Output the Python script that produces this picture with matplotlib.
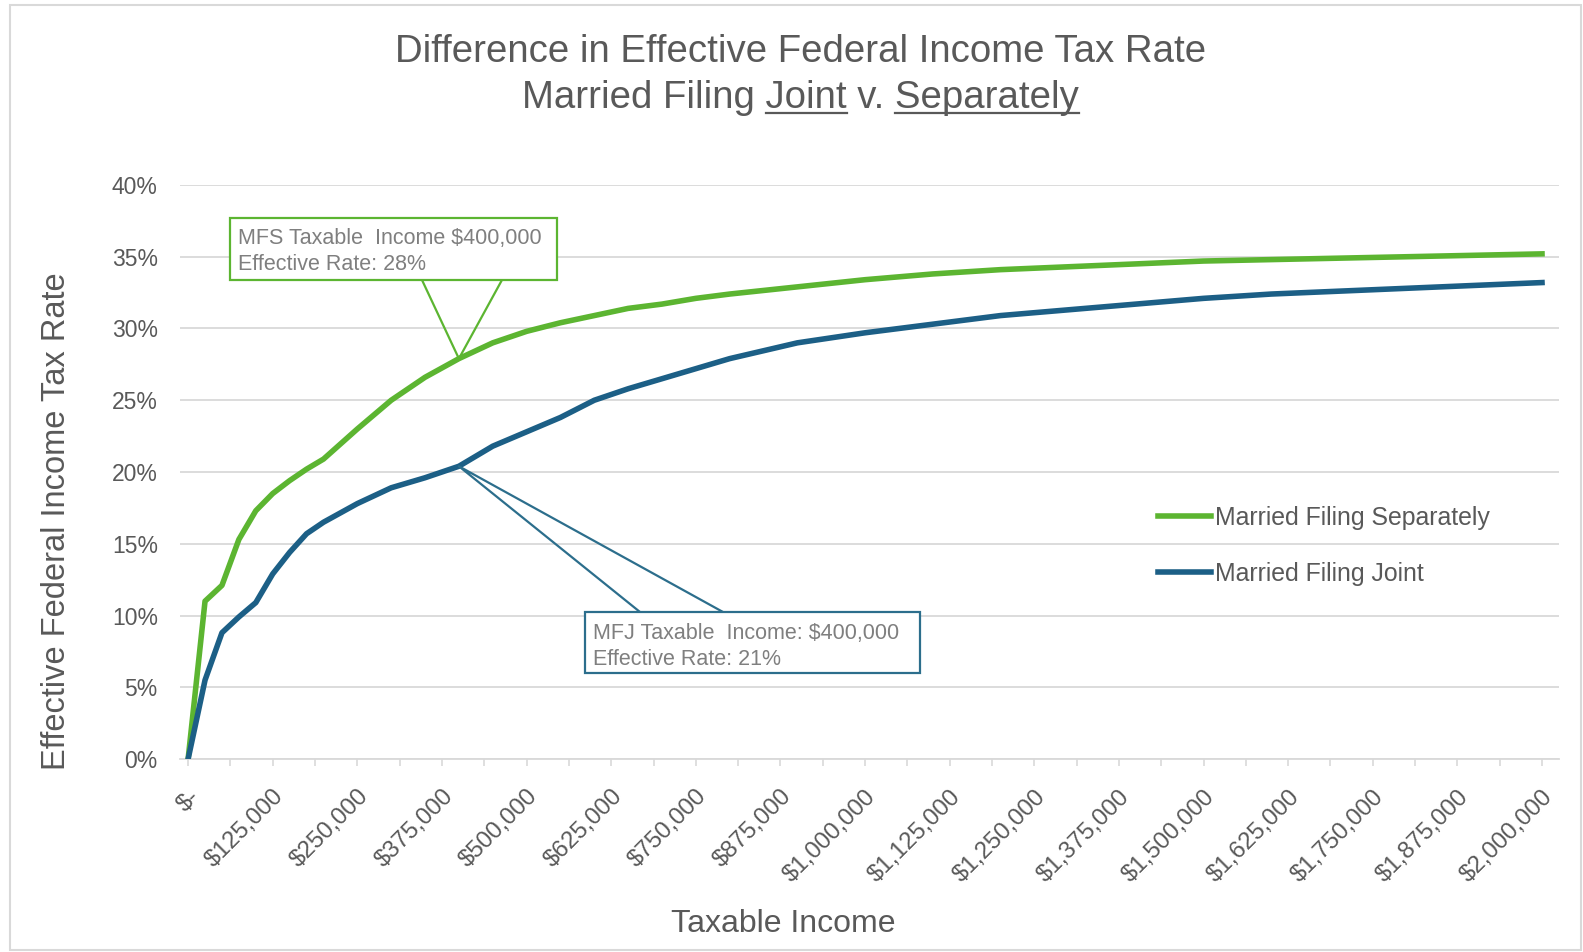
import matplotlib
matplotlib.use("Agg")
import matplotlib.pyplot as plt
from matplotlib.patches import Rectangle
from matplotlib.ticker import FuncFormatter, MultipleLocator

plt.rcParams['font.family'] = ['Liberation Sans', 'DejaVu Sans']

# ---- data (taxable income in $, rates in %) ----
income = [0, 25000, 50000, 75000, 100000, 125000, 150000, 175000, 200000,
          250000, 300000, 350000, 400000, 450000, 500000, 550000, 600000,
          650000, 700000, 750000, 800000, 900000, 1000000, 1100000, 1200000,
          1300000, 1400000, 1500000, 1600000, 1700000, 1800000, 1900000, 2000000]
mfs_rate = [0, 11.0, 12.1, 15.3, 17.3, 18.5, 19.4, 20.2, 20.9,
            23.0, 25.0, 26.6, 27.9, 29.0, 29.8, 30.4, 30.9,
            31.4, 31.7, 32.1, 32.4, 32.9, 33.4, 33.8, 34.1,
            34.3, 34.5, 34.7, 34.8, 34.9, 35.0, 35.1, 35.2]
mfj_rate = [0, 5.5, 8.8, 9.9, 10.9, 12.9, 14.4, 15.7, 16.5,
            17.8, 18.9, 19.6, 20.4, 21.8, 22.8, 23.8, 25.0,
            25.8, 26.5, 27.2, 27.9, 29.0, 29.7, 30.3, 30.9,
            31.3, 31.7, 32.1, 32.4, 32.6, 32.8, 33.0, 33.2]
series_names = ['Married Filing Separately', 'Married Filing Joint']
callout_income = 400000
mfs_note = 'MFS Taxable  Income $400,000\nEffective Rate: 28%'
mfj_note = 'MFJ Taxable  Income: $400,000\nEffective Rate: 21%'

GREEN = '#5cb531'
BLUE = '#1c5f86'
GREY_TXT = '#595959'
GRID = '#d9d9d9'

fig = plt.figure(figsize=(15.83, 9.52), dpi=100)
ax = fig.add_axes([0.1137, 0.2027, 0.8711, 0.603])

# outer frame of the chart
fig.patches.append(Rectangle((0.0065, 0.002), 0.992, 0.993, transform=fig.transFigure,
                             fill=False, edgecolor='#d9d9d9', linewidth=1.5))

ax.plot(income, mfs_rate, color=GREEN, linewidth=4, label=series_names[0],
        solid_joinstyle='round', zorder=3)
ax.plot(income, mfj_rate, color=BLUE, linewidth=4, label=series_names[1],
        solid_joinstyle='round', zorder=3)

ax.set_xlim(-12000, 2025000)
ax.set_ylim(0, 40)
ax.yaxis.set_major_locator(MultipleLocator(5))
ax.yaxis.set_major_formatter(FuncFormatter(lambda v, p: '%d%%' % round(v)))
ax.xaxis.set_major_locator(MultipleLocator(125000))
ax.xaxis.set_minor_locator(MultipleLocator(62500))
ax.xaxis.set_major_formatter(FuncFormatter(
    lambda v, p: '$-' if v == 0 else '${:,.0f}'.format(v)))

ax.grid(axis='y', color=GRID, linewidth=1.3, zorder=0)
ax.set_axisbelow(True)
for s in ['top', 'right', 'left']:
    ax.spines[s].set_visible(False)
ax.spines['bottom'].set_color(GRID)
ax.spines['bottom'].set_linewidth(1.3)

ax.tick_params(axis='y', length=0, pad=16, labelsize=16.5, labelcolor=GREY_TXT)
ax.tick_params(axis='x', which='both', length=5, color=GRID, width=1.2)
ax.tick_params(axis='x', which='major', pad=14, labelsize=17.3, labelcolor=GREY_TXT)
for lbl in ax.get_xticklabels():
    lbl.set_rotation(45)
    lbl.set_ha('right')
    lbl.set_va('top')
    lbl.set_rotation_mode('anchor')

fig.text(0.0355, 0.4527, 'Effective Federal Income Tax Rate', rotation=90,
         ha='center', va='center', fontsize=23.5, color=GREY_TXT)
fig.text(0.4947, 0.0294, 'Taxable Income', ha='center', va='center',
         fontsize=23, color=GREY_TXT)

# title, second line with underlined words
t1 = fig.text(0.5057, 1 - 52 / 952, 'Difference in Effective Federal Income Tax Rate',
              ha='center', va='center', fontsize=27.6, color=GREY_TXT)
line2 = 'Married Filing Joint v. Separately'
t2 = fig.text(0.5057, 1 - 98 / 952, line2, ha='center', va='center',
              fontsize=27.6, color=GREY_TXT)

leg = ax.legend(loc='upper left', bbox_to_anchor=(0.7315, 0.469),
                bbox_transform=fig.transFigure, frameon=False, fontsize=17.9,
                handlelength=2.15, handletextpad=0.15, labelspacing=1.3,
                borderpad=0, borderaxespad=0)
for txt in leg.get_texts():
    txt.set_color(GREY_TXT)


def callout(box, text_xy, note, color, base, tip):
    x0, y0, x1, y1 = box
    ax.add_patch(Rectangle((x0, y0), x1 - x0, y1 - y0, transform=ax.transAxes,
                           facecolor='white', edgecolor=color, linewidth=1.6,
                           zorder=5, clip_on=False))
    ax.text(text_xy[0], text_xy[1], note, transform=ax.transAxes, ha='left',
            va='center', fontsize=15.5, color='#7f7f7f', linespacing=1.3, zorder=6)
    tip_ax = ax.transAxes.inverted().transform(ax.transData.transform(tip))
    ax.plot([base[0], tip_ax[0], base[2]], [base[1], tip_ax[1], base[1]],
            transform=ax.transAxes, color=color, linewidth=1.6, zorder=4,
            clip_on=False)


i400 = income.index(callout_income)
callout((0.0363, 0.8345, 0.2734, 0.9425), (0.042, 0.8835), mfs_note, GREEN,
        (0.1755, 0.8345, 0.2335), (callout_income, mfs_rate[i400]))
callout((0.2937, 0.1498, 0.5366, 0.2561), (0.2995, 0.1965), mfj_note, '#2c6e8c',
        (0.3336, 0.2561, 0.3938), (callout_income, mfj_rate[i400]))

# underline "Joint" and "Separately"
fig.canvas.draw()
r = fig.canvas.get_renderer()


def text_width(s):
    tmp = fig.text(0, 0, s, fontsize=27.6)
    w = tmp.get_window_extent(r).width
    tmp.remove()
    return w


bb = t2.get_window_extent(r)
W, H = fig.bbox.width, fig.bbox.height
uy = (bb.y0 + 3) / H
j_end = bb.x0 + text_width('Married Filing Joint')
j_start = j_end - text_width('Joint')
s_start = bb.x1 - text_width('Separately')
for a, b in [(j_start, j_end), (s_start, bb.x1)]:
    fig.add_artist(plt.Line2D([a / W, b / W], [uy, uy], transform=fig.transFigure,
                              color=GREY_TXT, linewidth=1.6))

fig.savefig('out.png', dpi=100)
